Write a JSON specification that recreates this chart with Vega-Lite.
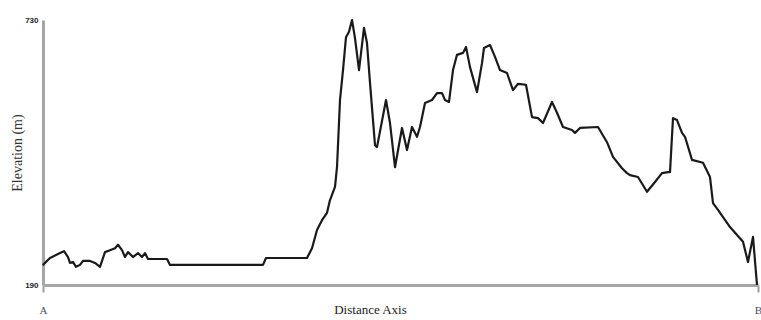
{
  "$schema": "https://vega.github.io/schema/vega-lite/v6.json",
  "width": 715,
  "height": 265,
  "autosize": "none",
  "padding": {"left": 43, "top": 20, "right": 3, "bottom": 35},
  "background": "white",
  "config": {"view": {"stroke": null}},
  "data": {"values": [
    {"d": 0, "e": 230}, {"d": 1, "e": 233}, {"d": 7, "e": 245}, {"d": 17, "e": 255}, {"d": 21, "e": 259},
    {"d": 25, "e": 247}, {"d": 27, "e": 235}, {"d": 30, "e": 237}, {"d": 33, "e": 227}, {"d": 37, "e": 231},
    {"d": 40, "e": 239}, {"d": 47, "e": 239}, {"d": 52, "e": 235}, {"d": 57, "e": 227}, {"d": 62, "e": 257},
    {"d": 67, "e": 261}, {"d": 72, "e": 265}, {"d": 75, "e": 272}, {"d": 79, "e": 261}, {"d": 82, "e": 247},
    {"d": 85, "e": 257}, {"d": 90, "e": 247}, {"d": 95, "e": 255}, {"d": 99, "e": 247}, {"d": 102, "e": 255},
    {"d": 105, "e": 243}, {"d": 124, "e": 243}, {"d": 127, "e": 231}, {"d": 220, "e": 231}, {"d": 223, "e": 245},
    {"d": 264, "e": 245}, {"d": 269, "e": 265}, {"d": 274, "e": 302}, {"d": 279, "e": 322}, {"d": 284, "e": 337},
    {"d": 287, "e": 363}, {"d": 292, "e": 390}, {"d": 294, "e": 430}, {"d": 297, "e": 567}, {"d": 300, "e": 628},
    {"d": 303, "e": 695}, {"d": 306, "e": 706}, {"d": 309, "e": 730}, {"d": 312, "e": 693}, {"d": 316, "e": 628},
    {"d": 321, "e": 714}, {"d": 324, "e": 683}, {"d": 327, "e": 602}, {"d": 332, "e": 475}, {"d": 334, "e": 471},
    {"d": 343, "e": 567}, {"d": 347, "e": 520}, {"d": 352, "e": 430}, {"d": 359, "e": 510}, {"d": 364, "e": 465},
    {"d": 369, "e": 512}, {"d": 374, "e": 492}, {"d": 377, "e": 512}, {"d": 382, "e": 561}, {"d": 389, "e": 567},
    {"d": 394, "e": 581}, {"d": 399, "e": 581}, {"d": 402, "e": 567}, {"d": 406, "e": 563}, {"d": 410, "e": 628},
    {"d": 414, "e": 659}, {"d": 420, "e": 663}, {"d": 423, "e": 675}, {"d": 427, "e": 634}, {"d": 434, "e": 583},
    {"d": 439, "e": 642}, {"d": 441, "e": 673}, {"d": 447, "e": 679}, {"d": 452, "e": 655}, {"d": 457, "e": 628},
    {"d": 464, "e": 622}, {"d": 470, "e": 587}, {"d": 475, "e": 600}, {"d": 483, "e": 598}, {"d": 489, "e": 532},
    {"d": 495, "e": 530}, {"d": 500, "e": 520}, {"d": 509, "e": 563}, {"d": 514, "e": 541}, {"d": 520, "e": 512},
    {"d": 529, "e": 506}, {"d": 532, "e": 500}, {"d": 537, "e": 510}, {"d": 555, "e": 512}, {"d": 564, "e": 481},
    {"d": 570, "e": 451}, {"d": 579, "e": 428}, {"d": 584, "e": 418}, {"d": 587, "e": 414}, {"d": 595, "e": 410},
    {"d": 604, "e": 380}, {"d": 612, "e": 400}, {"d": 619, "e": 418}, {"d": 625, "e": 420}, {"d": 627, "e": 420},
    {"d": 630, "e": 530}, {"d": 634, "e": 526}, {"d": 639, "e": 500}, {"d": 642, "e": 492}, {"d": 649, "e": 445},
    {"d": 660, "e": 439}, {"d": 667, "e": 410}, {"d": 670, "e": 357}, {"d": 675, "e": 343}, {"d": 687, "e": 308},
    {"d": 700, "e": 278}, {"d": 705, "e": 237}, {"d": 710, "e": 288}, {"d": 714, "e": 190}
  ]},
  "mark": {"type": "line", "color": "#1a1a1a", "strokeWidth": 2.2, "strokeJoin": "round", "clip": false},
  "encoding": {
    "x": {
      "field": "d", "type": "quantitative",
      "scale": {"domain": [0, 715], "nice": false, "zero": false},
      "axis": {
        "values": [0, 715],
        "labelExpr": "datum.value == 0 ? 'A' : 'B'",
        "labelFont": "Liberation Serif", "labelFontSize": 11, "labelColor": "#4a5060",
        "labelPadding": 12, "labelFlush": false,
        "ticks": true, "tickSize": 7, "tickColor": "#9e9e9e", "tickWidth": 2,
        "domainColor": "#a6a6a6", "domainWidth": 3, "grid": false,
        "title": "Distance Axis",
        "titleFont": "Liberation Serif", "titleFontSize": 13, "titleFontWeight": "normal", "titleColor": "#222",
        "titleX": 327, "titleY": 18
      }
    },
    "y": {
      "field": "e", "type": "quantitative",
      "scale": {"domain": [190, 730], "nice": false, "zero": false},
      "axis": {
        "values": [190, 730],
        "labelFont": "Liberation Sans", "labelFontSize": 8, "labelFontWeight": "bold", "labelColor": "#222",
        "labelPadding": 5, "ticks": false,
        "domainColor": "#a6a6a6", "domainWidth": 3, "grid": false,
        "title": "Elevation (m)",
        "titleFont": "Liberation Serif", "titleFontSize": 14, "titleFontWeight": "normal", "titleColor": "#333",
        "titlePadding": 0
      }
    }
  }
}
